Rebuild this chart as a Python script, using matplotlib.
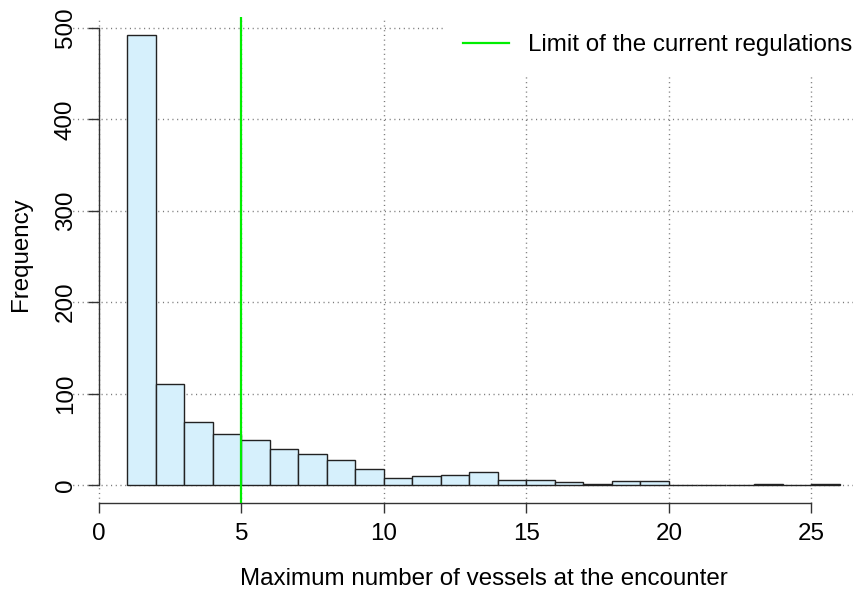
import numpy as np
import matplotlib.pyplot as plt

# histogram of maximum vessel counts per encounter (bins of width 1)
bin_left = np.arange(1, 26)
counts = [492, 111, 69, 56, 49, 39, 34, 27, 18, 8, 10, 11, 14, 5, 6, 3, 1, 4, 4,
          0, 0, 0, 1, 0, 1]
x_ticks = [0, 5, 10, 15, 20, 25]
y_ticks = [0, 100, 200, 300, 400, 500]
limit = 5

plt.rcParams['font.family'] = ['Liberation Sans', 'DejaVu Sans']
FS = 17.4

W, H = 854, 593
fig = plt.figure(figsize=(W / 100, H / 100), dpi=100)

# R-style plot region: xlim c(0, 27), ylim c(0, 492), both padded by 4%
xlo, xhi = -1.08, 28.08
ylo, yhi = -19.68, 511.68
px_x0, px_per_x = 99.0, 28.5
px_left, px_right = px_x0 + xlo * px_per_x, px_x0 + xhi * px_per_x
px_top, px_bottom = 17.3, 503.0
ax = fig.add_axes([px_left / W, 1 - px_bottom / H,
                   (px_right - px_left) / W, (px_bottom - px_top) / H])
ax.set_xlim(xlo, xhi)
ax.set_ylim(ylo, yhi)

grid_kw = dict(color='#7a7a7a', lw=1.0, linestyle=(0, (0.8, 2.6)), zorder=1)
for xv in x_ticks:
    ax.axvline(xv, **grid_kw)
for yv in y_ticks:
    ax.axhline(yv, **grid_kw)

ax.bar(bin_left, counts, width=1, align='edge', color='#d6f0fc',
       edgecolor='#222222', linewidth=1.0, zorder=2)

ax.axvline(limit, color='#00ee00', lw=1.6, zorder=3,
           label='Limit of the current regulations')

for s in ['top', 'right']:
    ax.spines[s].set_visible(False)
ax.spines['left'].set_position(('data', 0))
ax.spines['left'].set_bounds(0, 500)
ax.spines['bottom'].set_bounds(0, 25)
for s in ['left', 'bottom']:
    ax.spines[s].set_color('#333333')
    ax.spines[s].set_linewidth(1.0)

ax.set_xticks(x_ticks)
ax.set_yticks(y_ticks)
ax.set_yticklabels([str(v) for v in y_ticks], rotation=90, va='center')
ax.tick_params(axis='y', direction='out', length=8, width=1, pad=8,
               labelsize=FS, color='#333333')
ax.tick_params(axis='x', direction='out', length=7.2, width=1, pad=7,
               labelsize=FS, color='#333333')

ax.set_xlabel('Maximum number of vessels at the encounter', fontsize=FS,
              labelpad=17)
fig.text(21 / W, 1 - 254 / H, 'Frequency', rotation=90, fontsize=FS,
         ha='center', va='center')

leg = ax.legend(loc='upper left', bbox_to_anchor=(445 / W, 1 - 16 / H),
                bbox_transform=fig.transFigure, borderaxespad=0,
                borderpad=0.75, handlelength=1.9, handletextpad=0.8,
                fontsize=FS, fancybox=False, framealpha=1)
leg.get_frame().set_facecolor('white')
leg.get_frame().set_edgecolor('none')
leg.set_zorder(5)

fig.savefig('out.png', dpi=100)
